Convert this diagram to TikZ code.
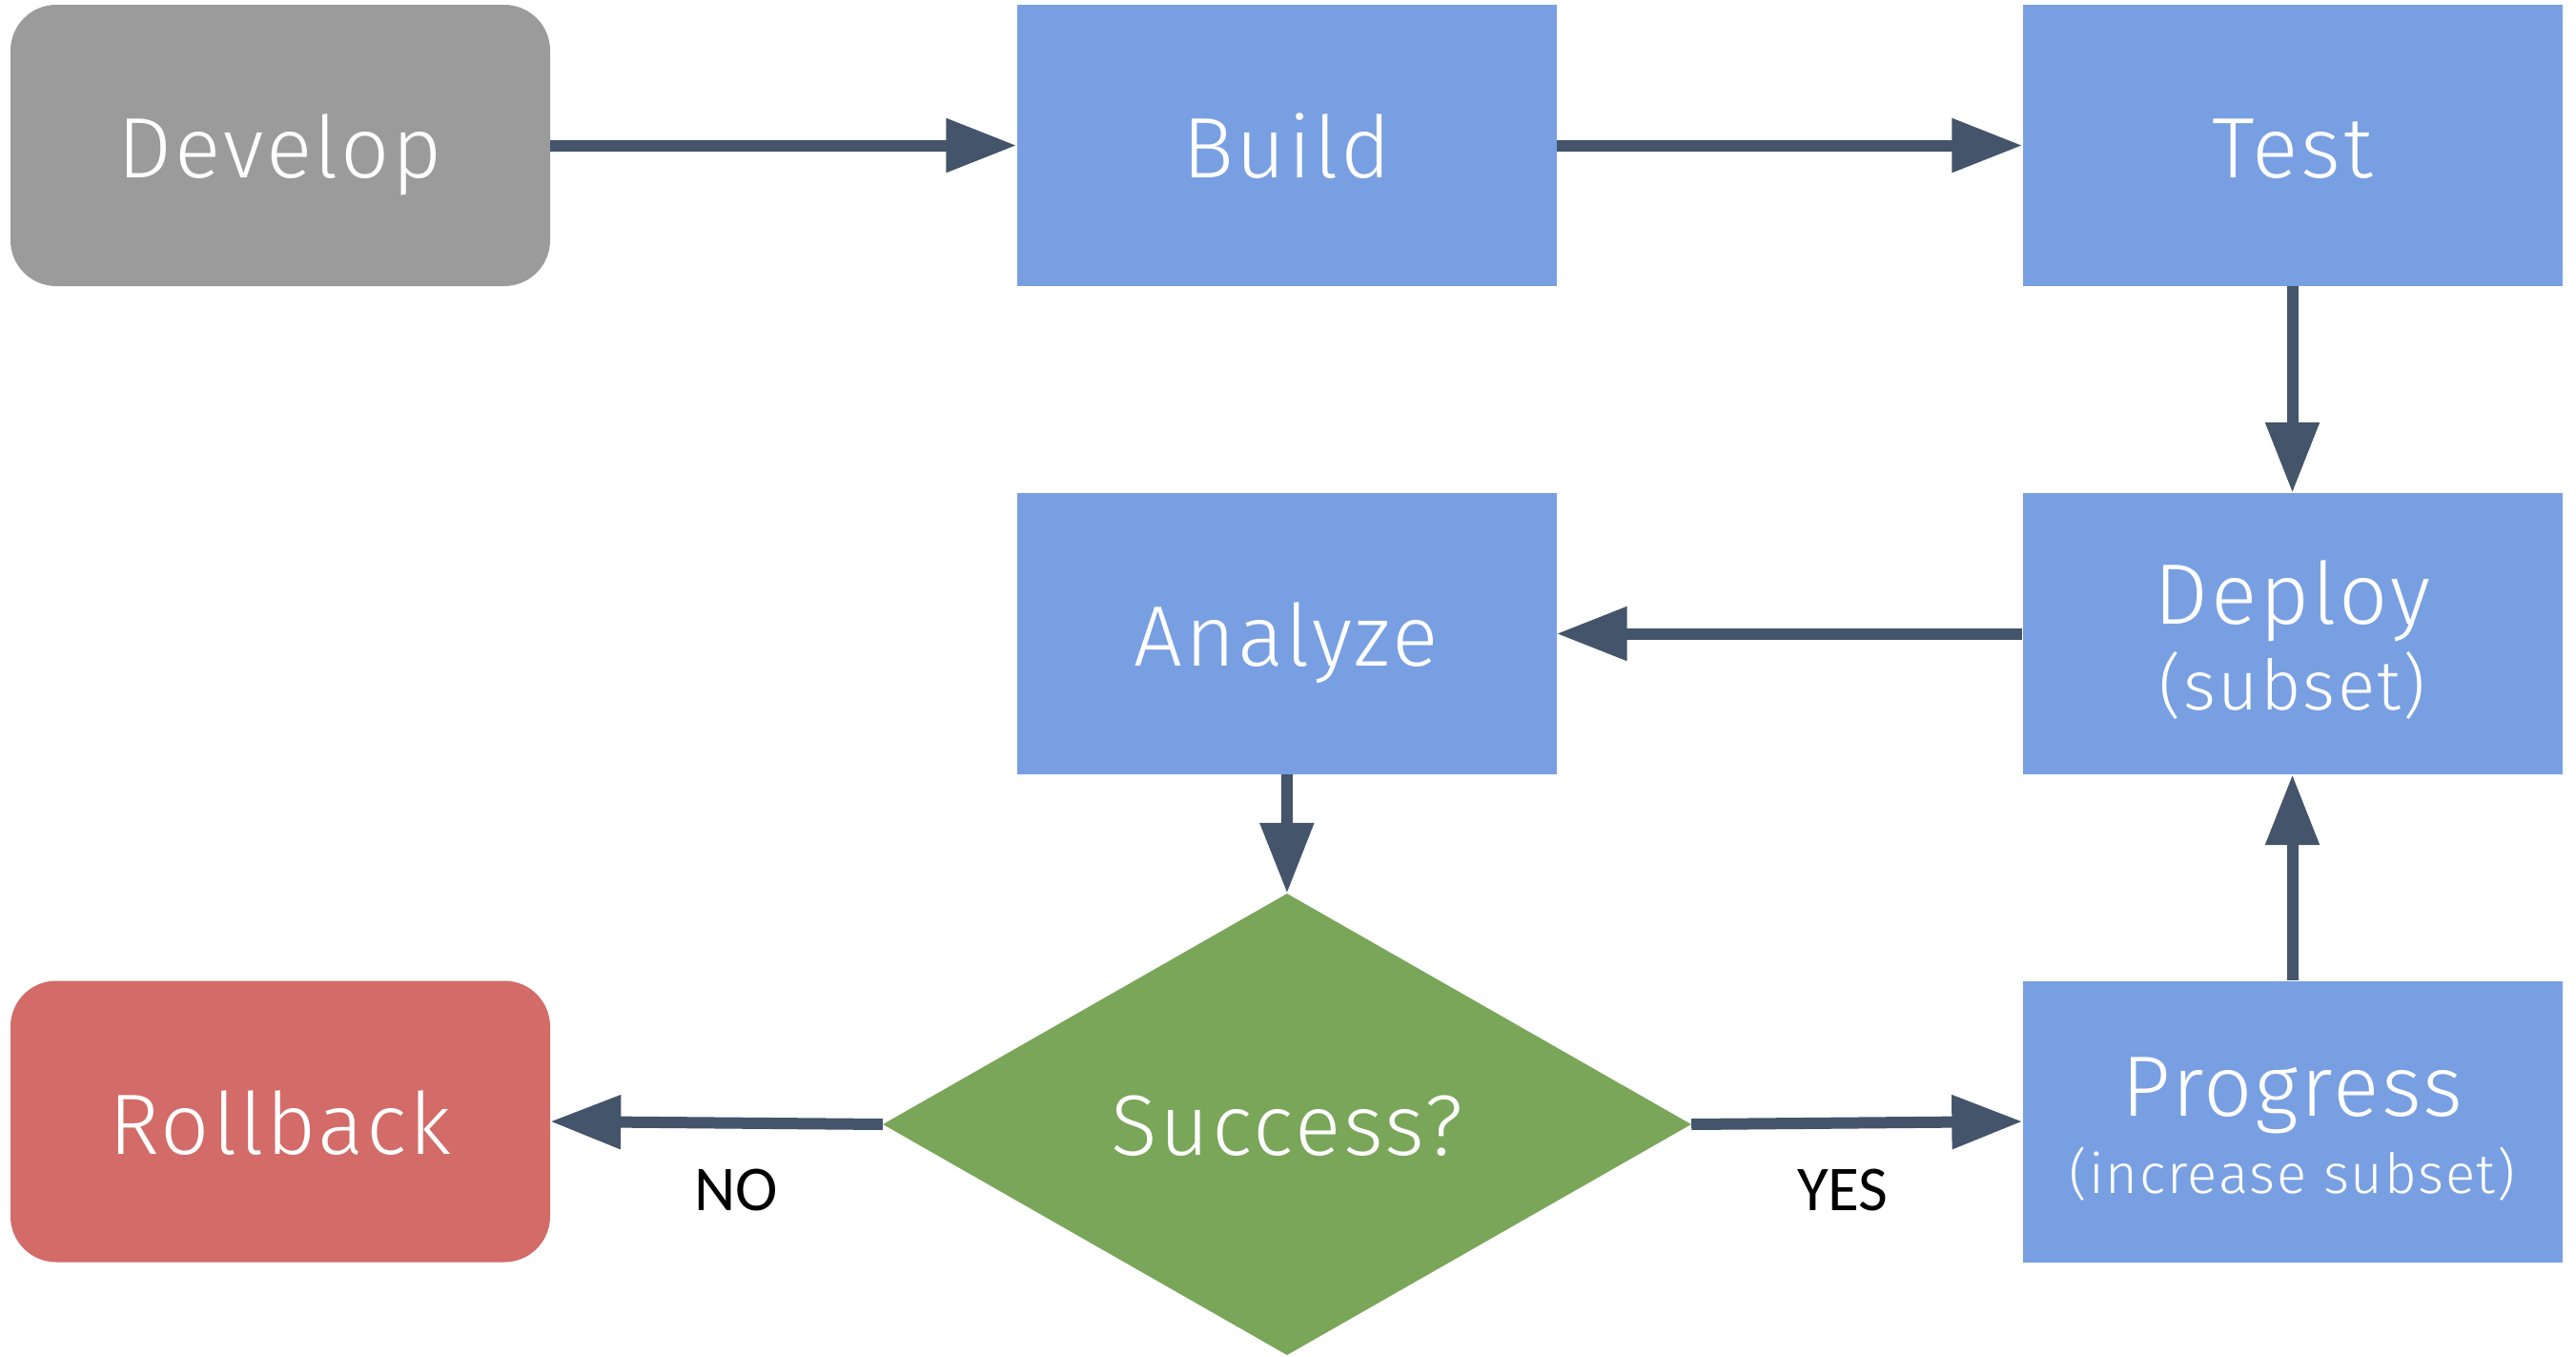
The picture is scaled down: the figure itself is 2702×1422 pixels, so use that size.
\documentclass[tikz,border=0pt]{standalone}
\usepackage{fontspec}
\setmainfont{Fira Sans Light}[LetterSpace=3]
\newfontfamily\lblfont{Carlito}
\usetikzlibrary{arrows.meta,shapes.geometric}
\definecolor{cgray}{HTML}{9B9B9B}
\definecolor{cblue}{HTML}{789FE2}
\definecolor{cred}{HTML}{D36B68}
\definecolor{cgreen}{HTML}{7AA65A}
\definecolor{carrow}{HTML}{44546A}
\newcommand\bigfnt{\fontsize{90}{96}\selectfont}
\newcommand\subfntA{\fontsize{73}{78}\selectfont}
\newcommand\subfntB{\fontsize{58}{62}\selectfont}
\begin{document}
\begin{tikzpicture}[x=1pt,y=-1pt,
  box/.style={rectangle, fill=cblue, minimum width=566pt, minimum height=295pt,
    inner sep=0pt, text=white, font=\bigfnt, align=center,
    text height=68pt, text depth=0pt},
  rbox/.style={box, rounded corners=48pt},
  decision/.style={diamond, fill=cgreen, minimum width=848pt, minimum height=484pt,
    inner sep=0pt, text=white, font=\bigfnt, text height=64pt, text depth=0pt},
  arr/.style={draw=carrow, line width=12pt,
    -{Triangle[length=74pt,width=54pt]}, fill=carrow},
  lbl/.style={font=\lblfont\fontsize{67}{70}\selectfont, text=black, inner sep=0pt}
]
\useasboundingbox (0,0) rectangle (2702,1422);
\node[rbox, fill=cgray] (develop) at (294,152.5) {Develop};
\node[box] (build) at (1349.5,152.5) {Build};
\node[box] (test) at (2404.5,152.5) {Test};
\node[box] (analyze) at (1349.5,664.5) {Analyze};
\node[box, text height=159pt, text depth=0pt] (deploy) at (2404.5,664.5)
  {Deploy\\[-6pt]{\subfntA (subset)}};
\node[rbox, fill=cred] (rollback) at (294,1176) {Rollback};
\node[box, text height=150pt, text depth=0pt] (progress) at (2404.5,1176)
  {Progress\\[-15pt]{\subfntB (increase subset)}};
\node[decision] (succ) at (1350,1179) {Success?};
\node[lbl] (no) at (772,1248) {NO};
\node[lbl] (yes) at (1933,1248) {YES};
\draw[arr] (develop) -- (build);
\draw[arr] (build) -- (test);
\draw[arr] (test) -- (deploy);
\draw[arr] (deploy) -- (analyze);
\draw[arr] (analyze) -- (succ.north);
\draw[arr] (succ.west) -- (rollback.east);
\draw[arr] (succ.east) -- (progress.west);
\draw[arr] (progress) -- (deploy);
\end{tikzpicture}
\end{document}
